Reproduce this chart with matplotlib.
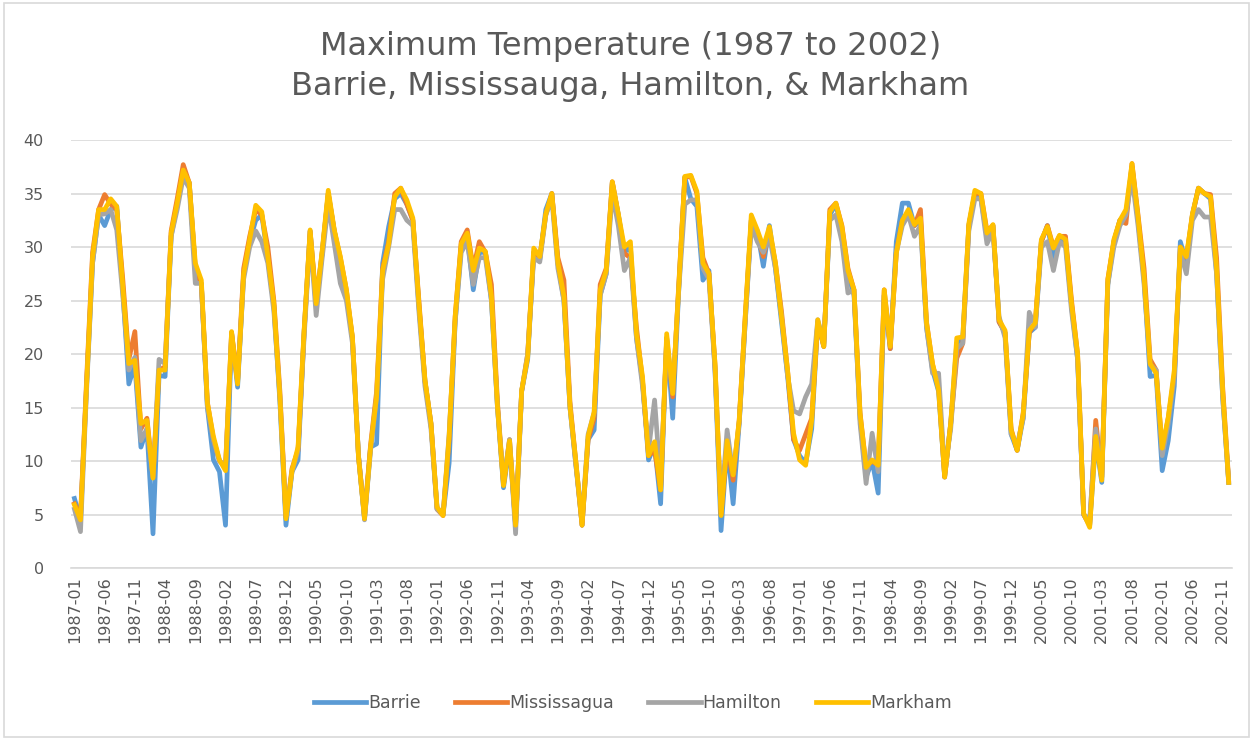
import numpy as np
import pandas as pd
import matplotlib
matplotlib.use("Agg")
import matplotlib.pyplot as plt
from matplotlib.patches import Rectangle

# monthly maximum temperature, 1987-01 .. 2002-12 (one row per year)
barrie = [
    6.5, 4.5, 17.0, 28.5, 33.0, 32.0, 33.5, 33.8, 26.0, 17.2, 19.0, 11.3,
    13.0, 3.2, 18.0, 17.9, 31.0, 34.0, 37.0, 36.0, 28.0, 26.5, 15.0, 10.1,
    9.0, 4.0, 22.0, 16.9, 27.5, 30.5, 32.5, 33.0, 29.0, 24.5, 15.5, 4.0,
    9.0, 10.1, 22.0, 31.5, 24.5, 29.5, 35.0, 31.5, 28.5, 25.5, 21.5, 10.5,
    4.6, 11.3, 11.6, 28.5, 31.9, 34.5, 35.0, 34.0, 32.5, 24.5, 17.5, 13.5,
    5.6, 5.0, 9.8, 23.0, 30.0, 31.0, 26.0, 29.5, 29.5, 25.0, 15.0, 7.5,
    11.5, 4.0, 16.5, 19.5, 29.5, 28.8, 33.5, 35.0, 28.5, 25.0, 15.0, 9.5,
    4.0, 12.0, 12.9, 25.5, 27.5, 36.0, 33.0, 29.5, 30.0, 21.5, 17.5, 10.1,
    11.5, 6.0, 21.5, 14.0, 26.0, 36.5, 34.5, 33.8, 26.9, 27.8, 18.5, 3.5,
    11.5, 6.0, 13.5, 23.0, 32.5, 31.5, 28.2, 32.0, 28.0, 23.0, 18.0, 12.0,
    10.5, 9.8, 13.0, 23.0, 20.7, 33.0, 34.0, 31.5, 27.5, 25.5, 14.0, 8.5,
    10.0, 7.0, 25.5, 20.5, 30.5, 34.1, 34.1, 32.0, 32.5, 22.5, 18.5, 16.5,
    8.5, 13.5, 21.0, 21.5, 32.0, 35.0, 34.5, 31.0, 32.0, 23.0, 22.0, 12.5,
    11.0, 14.0, 22.0, 22.5, 30.5, 32.0, 29.0, 31.0, 30.5, 24.5, 19.5, 5.0,
    4.0, 12.0, 8.0, 26.5, 30.5, 32.5, 33.0, 37.5, 32.5, 27.0, 17.9, 18.0,
    9.1, 11.9, 17.0, 30.5, 28.5, 33.0, 35.5, 35.0, 34.5, 27.5, 16.0, 8.0,
]
mississauga = [
    6.0, 4.8, 17.5, 29.5, 33.5, 34.9, 34.0, 33.5, 27.0, 19.5, 22.1, 13.0,
    14.0, 8.5, 18.5, 18.8, 31.5, 34.5, 37.7, 36.0, 28.0, 26.5, 15.5, 12.0,
    10.0, 9.5, 22.0, 17.5, 28.0, 31.0, 33.5, 33.0, 30.0, 25.0, 16.5, 4.8,
    9.3, 11.0, 22.0, 31.5, 25.0, 29.5, 35.0, 31.5, 29.0, 26.0, 21.5, 10.5,
    4.8, 11.5, 16.5, 28.0, 30.5, 35.0, 35.5, 34.0, 32.5, 25.0, 17.5, 13.5,
    5.5, 4.9, 12.0, 23.5, 30.5, 31.6, 28.0, 30.5, 29.5, 26.5, 15.5, 7.8,
    12.0, 4.0, 16.5, 20.0, 29.5, 29.0, 33.0, 35.0, 29.0, 26.9, 15.5, 9.8,
    4.0, 12.0, 14.0, 26.5, 28.0, 36.1, 33.0, 29.4, 29.0, 22.5, 17.5, 10.5,
    11.0, 7.3, 21.5, 16.0, 26.5, 36.5, 36.6, 35.0, 29.0, 27.5, 19.0, 5.0,
    11.5, 8.2, 13.8, 23.5, 32.5, 31.0, 29.1, 31.5, 28.5, 24.0, 18.5, 12.0,
    11.0, 12.5, 14.0, 23.0, 20.7, 33.5, 34.1, 32.0, 28.0, 26.0, 14.5, 9.5,
    10.0, 9.6, 26.0, 20.5, 29.5, 32.5, 33.0, 32.0, 33.5, 23.0, 19.0, 17.0,
    8.5, 13.5, 19.6, 21.0, 32.0, 35.0, 35.0, 31.5, 32.0, 23.0, 22.0, 13.0,
    11.0, 14.5, 22.0, 23.0, 30.5, 32.0, 30.0, 31.0, 31.0, 25.0, 20.0, 5.0,
    4.0, 13.8, 8.5, 27.0, 30.5, 32.5, 32.2, 37.8, 33.0, 28.0, 19.5, 18.5,
    11.0, 14.0, 18.0, 30.0, 29.0, 33.0, 35.5, 35.0, 34.9, 29.0, 17.0, 8.2,
]
hamilton = [
    5.5, 3.4, 16.5, 28.5, 33.0, 33.1, 33.5, 31.6, 25.5, 18.5, 19.7, 11.9,
    13.0, 8.5, 19.5, 19.1, 31.0, 33.5, 36.5, 35.5, 26.6, 26.6, 15.0, 12.0,
    10.0, 9.5, 21.5, 17.5, 27.0, 30.0, 31.5, 30.5, 28.5, 24.0, 16.0, 4.8,
    9.0, 11.0, 21.5, 31.0, 23.6, 29.0, 34.0, 30.3, 26.6, 25.0, 21.0, 10.5,
    4.5, 11.0, 16.0, 27.0, 30.0, 33.5, 33.5, 32.5, 32.0, 24.0, 17.0, 13.0,
    5.5, 5.0, 12.5, 23.0, 29.5, 30.5, 26.5, 29.0, 29.0, 25.0, 15.0, 8.0,
    12.0, 3.2, 16.5, 20.0, 29.0, 28.6, 33.0, 34.5, 28.0, 25.0, 15.0, 9.5,
    4.5, 12.5, 14.5, 25.5, 27.5, 35.0, 32.0, 27.8, 29.0, 21.5, 17.0, 11.0,
    15.7, 8.0, 21.0, 16.5, 26.0, 34.0, 34.4, 34.4, 28.0, 27.0, 18.5, 5.5,
    12.9, 8.8, 13.5, 23.0, 32.0, 30.5, 29.5, 31.0, 28.0, 23.5, 18.0, 14.7,
    14.4, 16.0, 17.2, 23.2, 21.0, 32.5, 33.0, 30.5, 25.7, 26.0, 13.5, 7.9,
    12.6, 9.0, 25.5, 21.0, 29.5, 32.0, 33.0, 31.0, 32.0, 22.5, 18.2, 18.2,
    9.0, 13.0, 20.5, 21.0, 31.5, 34.5, 34.5, 30.3, 31.5, 23.5, 21.5, 12.5,
    11.5, 14.0, 23.9, 22.5, 30.0, 30.5, 27.8, 30.5, 30.0, 24.0, 19.5, 5.0,
    4.5, 13.0, 8.5, 26.5, 30.0, 32.0, 33.0, 36.5, 32.0, 26.5, 19.0, 18.5,
    10.5, 13.5, 18.0, 29.5, 27.5, 32.5, 33.5, 32.8, 32.8, 27.5, 16.0, 8.0,
]
markham = [
    5.9, 4.5, 17.0, 29.1, 33.5, 33.5, 34.5, 33.8, 26.3, 19.1, 19.4, 13.5,
    13.8, 8.4, 18.5, 18.5, 31.3, 34.1, 37.2, 36.0, 28.5, 26.9, 15.4, 12.3,
    10.1, 9.1, 22.1, 17.2, 27.5, 30.7, 33.9, 33.3, 29.1, 24.7, 16.0, 4.6,
    9.1, 11.3, 22.2, 31.6, 24.7, 29.7, 35.3, 31.6, 29.1, 26.0, 21.6, 10.4,
    4.6, 11.3, 16.0, 27.8, 30.3, 34.7, 35.5, 34.4, 32.7, 24.7, 17.6, 13.5,
    5.7, 4.9, 12.3, 23.5, 30.3, 31.3, 27.8, 29.9, 29.6, 25.4, 15.1, 7.7,
    11.9, 4.0, 16.6, 19.7, 29.9, 29.1, 33.1, 35.0, 28.5, 25.4, 15.1, 9.8,
    4.0, 12.3, 14.6, 26.0, 27.8, 36.1, 33.1, 30.0, 30.5, 21.9, 17.9, 10.5,
    11.8, 7.3, 21.9, 16.3, 26.3, 36.6, 36.7, 35.2, 28.5, 27.5, 19.1, 4.9,
    11.9, 8.7, 13.8, 23.5, 33.0, 31.6, 30.0, 31.9, 28.5, 23.5, 18.5, 12.6,
    10.1, 9.6, 13.8, 23.2, 20.7, 33.3, 34.1, 31.9, 27.8, 26.0, 14.4, 9.4,
    10.1, 9.6, 26.0, 20.7, 29.4, 32.5, 33.5, 32.1, 32.7, 22.9, 19.1, 16.6,
    8.5, 13.5, 21.5, 21.6, 32.2, 35.3, 35.0, 31.3, 32.1, 23.2, 22.2, 12.9,
    11.0, 14.4, 22.2, 22.9, 30.7, 31.9, 29.9, 31.1, 30.7, 24.7, 20.0, 5.1,
    3.8, 12.3, 8.2, 26.9, 30.7, 32.5, 33.5, 37.8, 32.8, 27.2, 19.1, 18.2,
    11.2, 14.1, 18.5, 30.0, 29.1, 33.1, 35.5, 35.0, 34.7, 28.0, 16.6, 8.0,
]

months = pd.period_range("1987-01", "2002-12", freq="M").strftime("%Y-%m").tolist()

series = [
    ("Barrie", barrie, "#5B9BD5"),
    ("Mississagua", mississauga, "#ED7D31"),
    ("Hamilton", hamilton, "#A5A5A5"),
    ("Markham", markham, "#FFC000"),
]

text_col = "#595959"
fig = plt.figure(figsize=(12.53, 7.40), dpi=100)
ax = fig.add_axes([0.057, 0.2324, 0.926, 0.5784])

x = np.arange(len(months))
for name, vals, col in series:
    ax.plot(x, vals, color=col, lw=3.4, label=name, solid_joinstyle="round")

ax.set_xlim(-0.5, len(months) - 0.5)
ax.set_ylim(0, 40)
ax.set_yticks(range(0, 41, 5))
ax.set_xticks(x[::5])
ax.set_xticklabels(months[::5], rotation=90)
ax.tick_params(axis="both", length=0, labelsize=11.5, labelcolor=text_col)
ax.tick_params(axis="y", pad=20)
ax.tick_params(axis="x", pad=6)
ax.grid(axis="y", color="#D9D9D9", lw=1.2)
ax.set_axisbelow(True)
for s in ["left", "right", "top"]:
    ax.spines[s].set_visible(False)
ax.spines["bottom"].set_color("#D9D9D9")
ax.spines["bottom"].set_linewidth(1.2)

fig.text(0.503, 0.910, "Maximum Temperature (1987 to 2002)\nBarrie, Mississauga, Hamilton, & Markham",
         ha="center", va="center", fontsize=23, color=text_col, linespacing=1.35)

leg = fig.legend(loc="center", bbox_to_anchor=(0.505, 0.05), ncol=4, frameon=False,
                 fontsize=12.5, handlelength=3.0, handletextpad=0.1, columnspacing=2.0)
for t in leg.get_texts():
    t.set_color(text_col)

fig.patches.append(Rectangle((0.003, 0.004), 0.994, 0.992, transform=fig.transFigure,
                             fill=False, edgecolor="#D9D9D9", lw=1.2))

fig.savefig("out.png", dpi=100, facecolor="white")
